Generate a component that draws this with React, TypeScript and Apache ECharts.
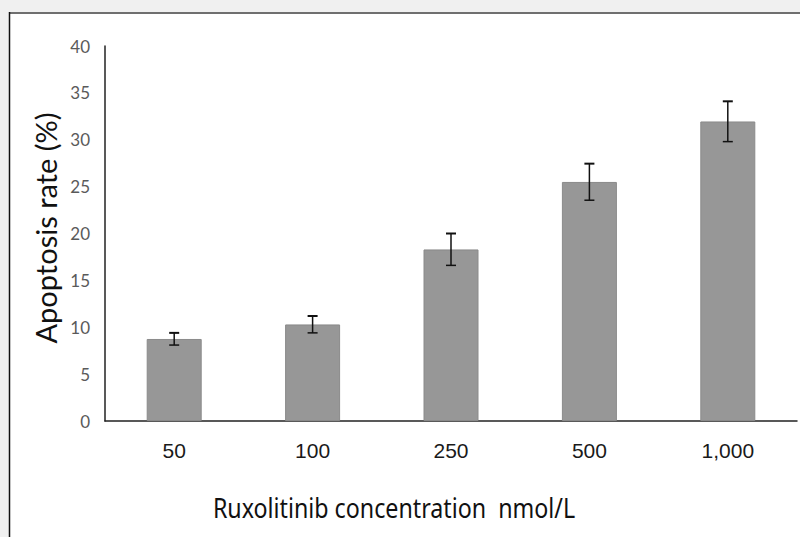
import React, { useEffect, useRef } from "react";
import * as echarts from "echarts";

const categories = ["50", "100", "250", "500", "1,000"];
const values = [8.75, 10.3, 18.3, 25.5, 31.95];
const errors = [0.65, 0.9, 1.7, 1.95, 2.15];
const yTicks = [0, 5, 10, 15, 20, 25, 30, 35, 40];

export default function App() {
  const ref = useRef<HTMLDivElement>(null);
  useEffect(() => {
    const chart = echarts.init(ref.current!, null, { renderer: "svg" });
    const errData = categories.map((_, i) => [i, values[i] - errors[i], values[i] + errors[i]]);
    chart.setOption({
      animation: false,
      backgroundColor: "#f0f0f0",
      graphic: [
        { type: "rect", z: -10, silent: true, shape: { x: 9, y: 12, width: 800, height: 540 }, style: { fill: "#ffffff" } },
        { type: "line", z: 50, silent: true, shape: { x1: 9, y1: 13, x2: 800, y2: 13 }, style: { stroke: "#6f6f6f", lineWidth: 2 } },
        { type: "line", z: 50, silent: true, shape: { x1: 9.5, y1: 12, x2: 9.5, y2: 537 }, style: { stroke: "#111111", lineWidth: 1.5 } },
        {
          type: "text", x: 394, y: 507, scaleX: 0.83,
          style: { text: "Ruxolitinib concentration  nmol/L", fontSize: 28, fontFamily: "Noto Sans", fill: "#111", align: "center", verticalAlign: "middle" },
        },
        {
          type: "text", x: 45, y: 228, rotation: Math.PI / 2,
          style: { text: "Apoptosis rate (%)", fontSize: 29, fontFamily: "Lato", fill: "#111", align: "center", verticalAlign: "middle" },
        },
      ],
      grid: { left: 105, right: 3, top: 46, bottom: 116, containLabel: false },
      xAxis: {
        type: "category",
        data: categories,
        axisLine: { lineStyle: { color: "#222", width: 1.5 } },
        axisTick: { show: false },
        axisLabel: { color: "#1a1a1a", fontSize: 21, margin: 19, fontFamily: "Liberation Sans" },
      },
      yAxis: {
        type: "value",
        min: 0,
        max: 40,
        interval: 5,
        axisLine: { show: true, lineStyle: { color: "#222", width: 1.5 } },
        axisTick: { show: false },
        splitLine: { show: false },
        axisLabel: { color: "#5a5a5a", fontSize: 17, margin: 15, fontFamily: "Lato" },
      },
      series: [
        {
          type: "bar",
          data: values,
          barWidth: 55,
          itemStyle: { color: "#979797", borderColor: "#8a8a8a", borderWidth: 1 },
        },
        {
          type: "custom",
          data: errData,
          z: 10,
          renderItem: (params: any, api: any) => {
            const x = api.value(0);
            const lo = api.coord([x, api.value(1)]);
            const hi = api.coord([x, api.value(2)]);
            const hw = 5;
            const st = { stroke: "#111", lineWidth: 1.5 };
            return {
              type: "group",
              children: [
                { type: "line", shape: { x1: hi[0], y1: hi[1], x2: lo[0], y2: lo[1] }, style: st },
                { type: "line", shape: { x1: hi[0] - hw, y1: hi[1], x2: hi[0] + hw, y2: hi[1] }, style: { stroke: "#111", lineWidth: 2 } },
                { type: "line", shape: { x1: lo[0] - hw, y1: lo[1], x2: lo[0] + hw, y2: lo[1] }, style: st },
              ],
            };
          },
        },
      ],
    });
    return () => chart.dispose();
  }, []);
  return (
    <div style={{ position: "fixed", left: 0, top: 0, width: 800, height: 537 }}>
      <div ref={ref} style={{ width: 800, height: 537 }} />
    </div>
  );
}
